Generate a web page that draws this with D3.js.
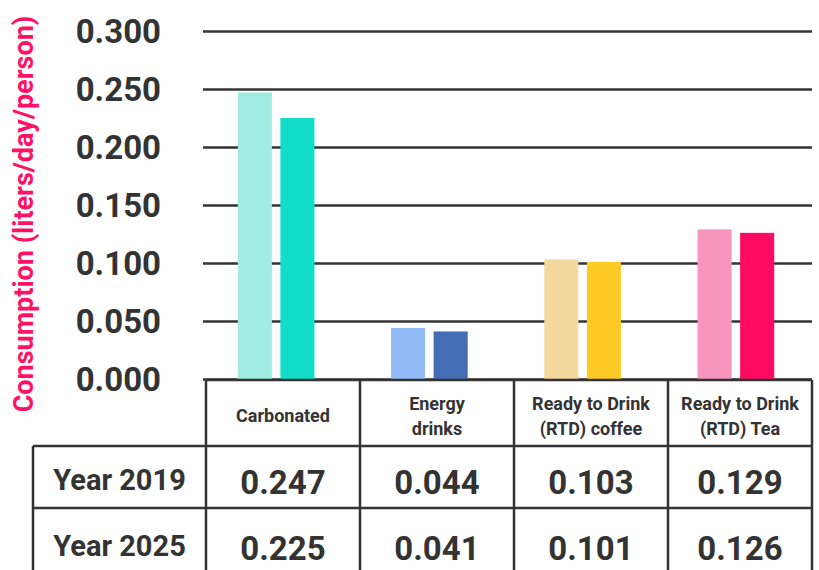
<!DOCTYPE html>
<html>
<head>
<meta charset="utf-8">
<script src="https://cdn.jsdelivr.net/npm/d3@7"></script>
<style>
  html, body { margin: 0; padding: 0; background: #fff; }
  svg { display: block; font-family: Roboto, "Noto Sans", sans-serif; font-weight: 700; }
</style>
</head>
<body>
<svg id="chart" width="819" height="570"></svg>
<script>
// Beverage consumption per person, by category and year
const categories = ["Carbonated", "Energy drinks", "Ready to Drink (RTD) coffee", "Ready to Drink (RTD) Tea"];
const headerLines = [["Carbonated"], ["Energy", "drinks"], ["Ready to Drink", "(RTD) coffee"], ["Ready to Drink", "(RTD) Tea"]];
const years = ["Year 2019", "Year 2025"];
const values2019 = [0.247, 0.044, 0.103, 0.129];
const values2025 = [0.225, 0.041, 0.101, 0.126];
const colors2019 = ["#A0ECE3", "#93BBF7", "#F3D99E", "#F795BF"];
const colors2025 = ["#12DDC9", "#456DB5", "#FFC926", "#FF0A62"];
const yTicks = [0, 0.05, 0.1, 0.15, 0.2, 0.25, 0.3];

const ink = "#333333";
const svg = d3.select("#chart");

const y = d3.scaleLinear().domain([0, 0.3]).range([379, 31]);
const x = d3.scaleBand().domain(categories).range([199.5, 812.5]).paddingInner(0.5).paddingOuter(0.25);
const xYear = d3.scaleBand().domain(years).range([0, x.bandwidth()]).paddingInner(0.2);

// horizontal gridlines
const yAxis = d3.axisLeft(y).tickValues(yTicks).tickSize(-(812 - 203)).tickFormat(d3.format(".3f"));
const ga = svg.append("g").attr("transform", "translate(203,0)").call(yAxis);
ga.select(".domain").remove();
ga.selectAll(".tick line").attr("stroke", ink).attr("stroke-width", 2.5);
ga.selectAll(".tick text")
  .attr("x", -42)
  .attr("dy", "0.35em")
  .attr("fill", ink)
  .style("font-size", "33px")
  .style("font-weight", 700)
  .style("font-family", "Roboto, sans-serif");

// axis title
svg.append("text")
  .attr("transform", "translate(33,214) rotate(-90)")
  .attr("text-anchor", "middle")
  .attr("fill", "#FF1166")
  .style("font-size", "27px")
  .text("Consumption (liters/day/person)");

// bars
const rows = categories.map((c, i) => ({
  cat: c,
  bars: [
    { year: years[0], v: values2019[i], color: colors2019[i] },
    { year: years[1], v: values2025[i], color: colors2025[i] }
  ]
}));
const groups = svg.append("g").selectAll("g").data(rows).join("g")
  .attr("transform", d => `translate(${x(d.cat)},0)`);
groups.selectAll("rect").data(d => d.bars).join("rect")
  .attr("x", d => xYear(d.year))
  .attr("width", xYear.bandwidth())
  .attr("y", d => y(d.v))
  .attr("height", d => y(0) - y(d.v))
  .attr("fill", d => d.color);

// data table below the chart
const tableLeft = 206, colW = 154, tableRight = 812, labelLeft = 33;
const rowTop = [380, 446, 508, 575];
const colEdge = i => Math.min(tableLeft + i * colW, tableRight);
const t = svg.append("g").attr("fill", "none").attr("stroke", ink).attr("stroke-width", 2.5);
t.append("line").attr("x1", tableLeft).attr("x2", tableRight).attr("y1", rowTop[0]).attr("y2", rowTop[0]);
[rowTop[1], rowTop[2]].forEach(yy =>
  t.append("line").attr("x1", labelLeft).attr("x2", tableRight).attr("y1", yy).attr("y2", yy));
d3.range(categories.length + 1).forEach(i =>
  t.append("line").attr("x1", colEdge(i)).attr("x2", colEdge(i)).attr("y1", rowTop[0]).attr("y2", rowTop[3]));
t.append("line").attr("x1", labelLeft).attr("x2", labelLeft).attr("y1", rowTop[1]).attr("y2", rowTop[3]);

const colCenter = i => (colEdge(i) + colEdge(i + 1)) / 2;
const hdr = svg.append("g").attr("fill", ink).attr("text-anchor", "middle").style("font-size", "18px");
headerLines.forEach((lines, i) => {
  const mid = 416, lh = 25;
  lines.forEach((ln, j) => {
    hdr.append("text")
      .attr("x", colCenter(i))
      .attr("y", mid + (j - (lines.length - 1) / 2) * lh)
      .attr("dy", "0.35em")
      .text(ln);
  });
});

const rowMid = [482, 548];
const rowVals = [values2019, values2025];
const body = svg.append("g").attr("fill", ink).attr("text-anchor", "middle");
years.forEach((yr, r) => {
  body.append("text")
    .attr("x", (labelLeft + tableLeft) / 2)
    .attr("y", rowMid[r] - 2)
    .attr("dy", "0.35em")
    .style("font-size", "29px")
    .text(yr);
  rowVals[r].forEach((v, i) => {
    body.append("text")
      .attr("x", colCenter(i))
      .attr("y", rowMid[r])
      .attr("dy", "0.35em")
      .style("font-size", "33px")
      .text(d3.format(".3f")(v));
  });
});
</script>
</body>
</html>
